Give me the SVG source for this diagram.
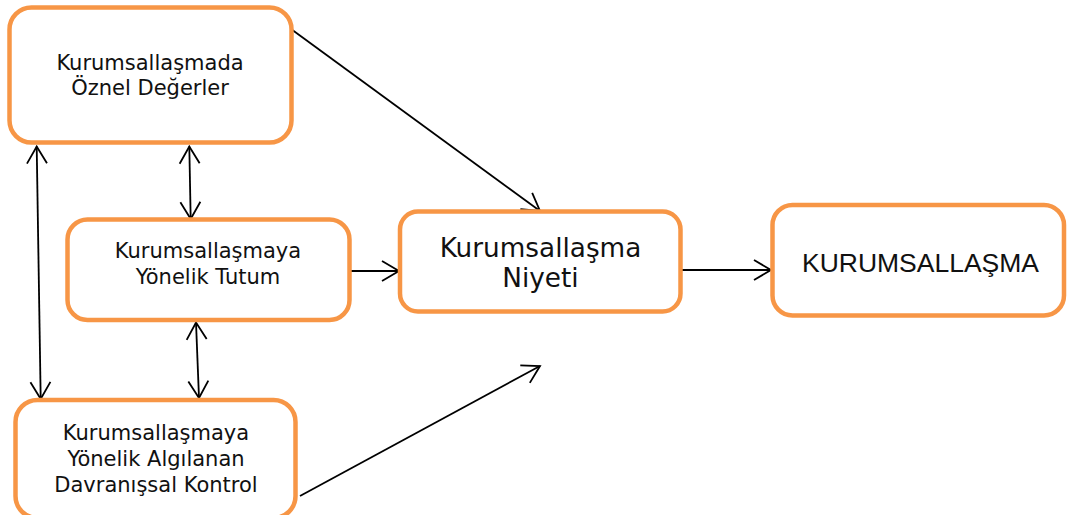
<svg xmlns="http://www.w3.org/2000/svg" width="1067" height="515" viewBox="0 0 1067 515">
<style>
.box{fill:#fff;stroke:#F79646;stroke-width:4.5}
.t{font-family:"DejaVu Sans",Verdana,sans-serif;fill:#111;text-anchor:middle}
.s{font-size:21px}
.a{font-family:"Liberation Sans",Arial,sans-serif;fill:#111;text-anchor:middle}
.c{stroke:#000;stroke-width:1.8;fill:none}
</style>
<defs>
<marker id="arr" markerUnits="userSpaceOnUse" markerWidth="24" markerHeight="24" viewBox="-20 -12 24 24" refX="0" refY="0" orient="auto-start-reverse">
<path d="M-17,-10 L0,0 L-17,10" fill="none" stroke="#000" stroke-width="1.8"/>
</marker>
</defs>
<g id="connectors">
<line class="c" x1="291" y1="29" x2="540" y2="211" marker-end="url(#arr)"/>
<line class="c" x1="350" y1="271" x2="399" y2="271" marker-end="url(#arr)"/>
<line class="c" x1="681" y1="270" x2="771" y2="270" marker-end="url(#arr)"/>
<line class="c" x1="300" y1="496" x2="540" y2="366" marker-end="url(#arr)"/>
<line class="c" x1="189.3" y1="146.5" x2="190.7" y2="219" marker-start="url(#arr)" marker-end="url(#arr)"/>
<line class="c" x1="196" y1="322.5" x2="199" y2="398" marker-start="url(#arr)" marker-end="url(#arr)"/>
<line class="c" x1="36.7" y1="146.5" x2="40.7" y2="399" marker-start="url(#arr)" marker-end="url(#arr)"/>
</g>
<g id="node-oznel">
<rect class="box" x="9.5" y="7.5" width="282" height="135" rx="22"/>
<text class="t s" x="150" y="70">Kurumsallaşmada</text>
<text class="t s" x="150" y="95">Öznel Değerler</text>
</g>
<g id="node-tutum">
<rect class="box" x="67.5" y="219.5" width="282" height="100.5" rx="20"/>
<text class="t s" x="208" y="258">Kurumsallaşmaya</text>
<text class="t s" x="208" y="284">Yönelik Tutum</text>
</g>
<g id="node-kontrol">
<rect class="box" x="15.5" y="400" width="280" height="118" rx="22"/>
<text class="t s" x="156" y="440">Kurumsallaşmaya</text>
<text class="t s" x="156" y="466">Yönelik Algılanan</text>
<text class="t s" x="156" y="492">Davranışsal Kontrol</text>
</g>
<g id="node-niyet">
<rect class="box" x="400" y="211.5" width="280.5" height="100" rx="18"/>
<text class="t" font-size="26.3" x="540.5" y="257">Kurumsallaşma</text>
<text class="t" font-size="26.3" x="540.5" y="287">Niyeti</text>
</g>
<g id="node-kurumsallasma">
<rect class="box" x="772.5" y="205" width="291.5" height="110.5" rx="20"/>
<text class="a" font-size="26.5" x="920.5" y="271.5">KURUMSALLAŞMA</text>
</g>
</svg>
